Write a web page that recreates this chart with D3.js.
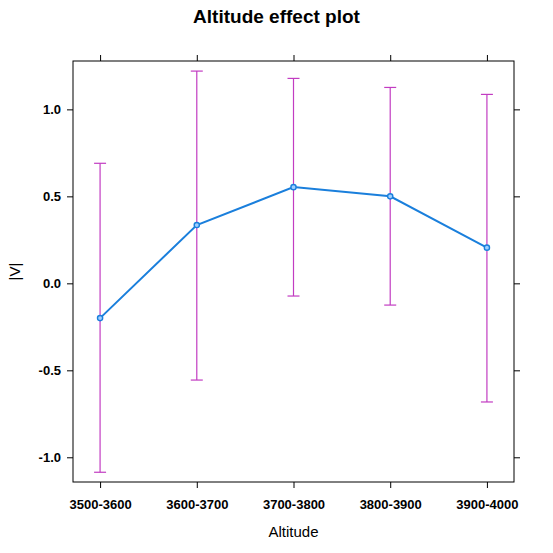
<!DOCTYPE html>
<html>
<head>
<meta charset="utf-8">
<script src="https://cdn.jsdelivr.net/npm/d3@7"></script>
<style>
  body { margin: 0; background: #fff; }
  svg { font-family: "Liberation Sans", Arial, sans-serif; }
</style>
</head>
<body>
<div id="chart"></div>
<script>
// data
const altitudes = ["3500-3600", "3600-3700", "3700-3800", "3800-3900", "3900-4000"];
const fitValues = [-0.20, 0.335, 0.553, 0.50, 0.205];
const lowerValues = [-1.086, -0.556, -0.073, -0.125, -0.682];
const upperValues = [0.69, 1.22, 1.178, 1.126, 1.086];
const yTicks = [-1.0, -0.5, 0.0, 0.5, 1.0];

const width = 553, height = 553;
const marginTop = 61, marginRight = 39, marginBottom = 71, marginLeft = 73;

const svg = d3.select("#chart").append("svg")
    .attr("width", width)
    .attr("height", height)
    .attr("viewBox", [0, 0, width, height]);

const x = d3.scalePoint(altitudes, [marginLeft, width - marginRight]).padding(0.28);
const y = d3.scaleLinear([-1.142, 1.278], [height - marginBottom, marginTop]);

// plain hyphen for negatives, like the original
const fmt = d => d3.format(".1f")(d).replace("\u2212", "-");
const tickLen = 6;

// panel box
svg.append("rect")
    .attr("x", marginLeft)
    .attr("y", marginTop)
    .attr("width", width - marginLeft - marginRight)
    .attr("height", height - marginTop - marginBottom)
    .attr("fill", "none")
    .attr("stroke", "#000")
    .attr("stroke-width", 1);

// axes: outward ticks on all four sides, labels only left and bottom
svg.append("g")
    .attr("transform", `translate(${marginLeft},0)`)
    .call(d3.axisLeft(y).tickValues(yTicks).tickFormat(fmt).tickSize(tickLen).tickPadding(6))
    .call(g => g.select(".domain").remove())
    .call(g => g.selectAll("text")
        .attr("font-size", 13)
        .attr("font-weight", "bold")
        .attr("fill", "#000")
        .attr("font-family", "Liberation Sans, Arial, sans-serif"));

svg.append("g")
    .attr("transform", `translate(${width - marginRight},0)`)
    .call(d3.axisRight(y).tickValues(yTicks).tickFormat("").tickSize(tickLen))
    .call(g => g.select(".domain").remove());

svg.append("g")
    .attr("transform", `translate(0,${height - marginBottom})`)
    .call(d3.axisBottom(x).tickSize(tickLen).tickPadding(12))
    .call(g => g.select(".domain").remove())
    .call(g => g.selectAll("text")
        .attr("font-size", 13)
        .attr("font-weight", "bold")
        .attr("fill", "#000")
        .attr("font-family", "Liberation Sans, Arial, sans-serif"));

svg.append("g")
    .attr("transform", `translate(0,${marginTop})`)
    .call(d3.axisTop(x).tickFormat("").tickSize(tickLen))
    .call(g => g.select(".domain").remove());

// confidence bars
const errColor = "#c23cc2";
const cap = 6;
const bars = svg.append("g")
    .attr("stroke", errColor)
    .attr("stroke-width", 1.2);

bars.selectAll("line.v")
  .data(altitudes)
  .join("line")
    .attr("class", "v")
    .attr("x1", d => x(d))
    .attr("x2", d => x(d))
    .attr("y1", (d, i) => y(lowerValues[i]))
    .attr("y2", (d, i) => y(upperValues[i]));

bars.selectAll("line.hi")
  .data(altitudes)
  .join("line")
    .attr("class", "hi")
    .attr("x1", d => x(d) - cap)
    .attr("x2", d => x(d) + cap)
    .attr("y1", (d, i) => y(upperValues[i]))
    .attr("y2", (d, i) => y(upperValues[i]));

bars.selectAll("line.lo")
  .data(altitudes)
  .join("line")
    .attr("class", "lo")
    .attr("x1", d => x(d) - cap)
    .attr("x2", d => x(d) + cap)
    .attr("y1", (d, i) => y(lowerValues[i]))
    .attr("y2", (d, i) => y(lowerValues[i]));

// fitted line
const lineColor = "#1a7fdc";
const line = d3.line()
    .x((d, i) => x(altitudes[i]))
    .y(d => y(d));

svg.append("path")
    .datum(fitValues)
    .attr("fill", "none")
    .attr("stroke", lineColor)
    .attr("stroke-width", 2)
    .attr("d", line);

svg.append("g")
  .selectAll("circle")
  .data(fitValues)
  .join("circle")
    .attr("cx", (d, i) => x(altitudes[i]))
    .attr("cy", d => y(d))
    .attr("r", 2.6)
    .attr("fill", "#9fd0ff")
    .attr("stroke", lineColor)
    .attr("stroke-width", 1.4);

// titles
svg.append("text")
    .attr("x", width / 2)
    .attr("y", 23)
    .attr("text-anchor", "middle")
    .attr("font-size", 19)
    .attr("font-weight", "bold")
    .text("Altitude effect plot");

svg.append("text")
    .attr("x", (marginLeft + width - marginRight) / 2)
    .attr("y", 537)
    .attr("text-anchor", "middle")
    .attr("font-size", 15)
    .text("Altitude");

svg.append("text")
    .attr("transform", `translate(20,${(marginTop + height - marginBottom) / 2}) rotate(-90)`)
    .attr("text-anchor", "middle")
    .attr("font-size", 15)
    .text("|V|");
</script>
</body>
</html>
